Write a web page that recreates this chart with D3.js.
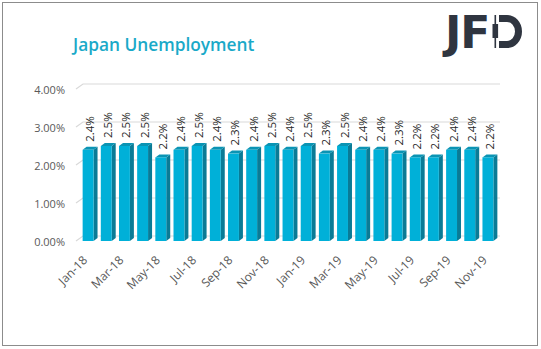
<!DOCTYPE html>
<html><head><meta charset="utf-8">
<script src="https://cdn.jsdelivr.net/npm/d3@7"></script>
<style>body{margin:0;background:#fff}svg{display:block}</style>
</head><body>
<svg id="c" width="541" height="349"></svg>
<script>
const categories = ["Jan-18","Feb-18","Mar-18","Apr-18","May-18","Jun-18","Jul-18","Aug-18","Sep-18","Oct-18","Nov-18","Dec-18",
"Jan-19","Feb-19","Mar-19","Apr-19","May-19","Jun-19","Jul-19","Aug-19","Sep-19","Oct-19","Nov-19"];
const values = [2.4,2.5,2.5,2.5,2.2,2.4,2.5,2.4,2.3,2.4,2.5,2.4,2.5,2.3,2.5,2.4,2.4,2.3,2.2,2.2,2.4,2.4,2.2];
const yTicks = [0,1,2,3,4];
const title = "Japan Unemployment";

const svg = d3.select("#c");
const font = "'Open Sans', 'Noto Sans', sans-serif";

svg.append("rect").attr("x",2.5).attr("y",2.5).attr("width",535).attr("height",343)
  .attr("fill","#fff").attr("stroke","#8c8c8c").attr("stroke-width",1);

svg.append("text").attr("x",73).attr("y",51).text(title)
  .attr("font-family",font).attr("font-size",17.3).attr("font-weight",600).attr("fill","#1aa9c8");

// logo
const logo = svg.append("g").attr("fill","#2f3540");
logo.append("text").attr("x",445).attr("y",48).text("JF")
  .attr("font-family","'DejaVu Sans', sans-serif").attr("font-weight",700).attr("font-size",44)
  .attr("letter-spacing",-1).attr("fill","#2f3540");
logo.append("path").attr("d","M499,15 H507 A15,16.5 0 0 1 507,48 H499 V41 H507 A8,9.5 0 0 0 507,22 H499 Z");
logo.append("rect").attr("x",494.5).attr("y",15).attr("width",1.6).attr("height",33);
logo.append("rect").attr("x",492.5).attr("y",24).attr("width",5.6).attr("height",14);

const x = d3.scaleBand().domain(categories).range([79,497]).paddingInner(0.4).paddingOuter(0.2);
const y = d3.scaleLinear().domain([0,4]).range([241,89]);
const wdx = 7, wdy = -5; // wall depth
const bdx = 4, bdy = -3; // bar depth
const x0 = 76, x1 = 500;

// gridlines
const g = svg.append("g");
yTicks.forEach(t=>{
  const yy = y(t);
  g.append("path").attr("d",`M${x0},${yy} L${x0+wdx},${yy+wdy} L${x1},${yy+wdy}`)
    .attr("fill","none").attr("stroke","#d9d9d9").attr("stroke-width",1.2);
});

// y labels
const yAxis = d3.axisLeft(y).tickValues(yTicks).tickFormat(d=>d.toFixed(2)+"%").tickSize(0).tickPadding(0);
const ya = svg.append("g").attr("transform","translate(65,0)").call(yAxis);
ya.select(".domain").remove();
ya.selectAll("text").attr("font-family",font).attr("font-size",11).attr("fill","#595959").attr("dy","0.4em");

// bars
const bw = x.bandwidth();
const bars = svg.append("g");
categories.forEach((c,i)=>{
  const v = values[i];
  const bx = x(c), top = y(v), bot = y(0);
  bars.append("path").attr("d",`M${bx+bw},${top} L${bx+bw+bdx},${top+bdy} L${bx+bw+bdx},${bot+bdy} L${bx+bw},${bot} Z`).attr("fill","#0a7b96");
  bars.append("path").attr("d",`M${bx},${top} L${bx+bdx},${top+bdy} L${bx+bw+bdx},${top+bdy} L${bx+bw},${top} Z`).attr("fill","#0a94b4");
  bars.append("rect").attr("x",bx).attr("y",top).attr("width",bw).attr("height",bot-top).attr("fill","#00b0d8");
  bars.append("text").attr("transform",`translate(${bx+bw/2+bdx/2+4},${top+bdy-5}) rotate(-90)`)
    .text(v.toFixed(1)+"%").attr("font-family",font).attr("font-size",11.5).attr("fill","#262626");
});

// x labels
const xl = svg.append("g");
categories.forEach((c,i)=>{
  if(i%2!==0) return;
  xl.append("text").attr("transform",`translate(${x(c)+bw/2},${261}) rotate(-45)`)
    .attr("text-anchor","end").text(c)
    .attr("font-family",font).attr("font-size",12).attr("fill","#595959");
});
</script>
</body></html>
